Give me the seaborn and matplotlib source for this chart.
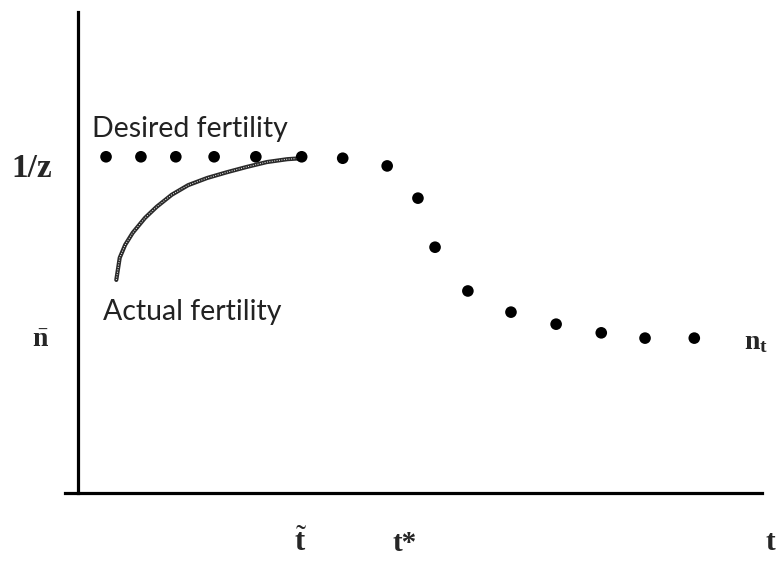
import numpy as np
import pandas as pd
import matplotlib
matplotlib.use("Agg")
import matplotlib.pyplot as plt
import seaborn as sns

# desired fertility path n_t (dots)
t_desired = [0.41, 0.92, 1.43, 1.99, 2.60, 3.27, 3.87, 4.52, 4.97, 5.22,
             5.70, 6.33, 6.99, 7.65, 8.29, 9.01]
n_desired = [6.99, 6.99, 6.99, 6.99, 6.99, 6.99, 6.96, 6.80, 6.13, 5.11,
             4.20, 3.76, 3.51, 3.33, 3.22, 3.22]

# actual fertility curve
t_actual = [0.56, 0.61, 0.69, 0.80, 0.98, 1.15, 1.37, 1.61, 1.89, 2.18,
            2.47, 2.76, 3.06, 3.27]
n_actual = [4.43, 4.89, 5.16, 5.41, 5.72, 5.95, 6.20, 6.40, 6.55, 6.67,
            6.78, 6.88, 6.94, 6.96]

inv_z = 6.99
n_bar = 3.22
t_tilde = 3.25
t_star = 4.78

desired = pd.DataFrame({"t": t_desired, "n": n_desired})
actual = pd.DataFrame({"t": t_actual, "n": n_actual})

sns.set_theme(style="white")
plt.rcParams["font.family"] = ["Liberation Serif", "DejaVu Serif"]
plt.rcParams["mathtext.fontset"] = "custom"
plt.rcParams["mathtext.rm"] = "Liberation Serif"
plt.rcParams["mathtext.it"] = "Liberation Serif"
plt.rcParams["mathtext.bf"] = "Liberation Serif:bold"

fig = plt.figure(figsize=(7.79, 5.61), dpi=100)
ax = fig.add_axes([65 / 779, 68 / 561, 697 / 779, 481 / 561])

sns.lineplot(data=actual, x="t", y="n", ax=ax, color="#2a2a2a", lw=3.0,
             sort=False, zorder=2)
sns.lineplot(data=actual, x="t", y="n", ax=ax, color="white", lw=0.7,
             sort=False, zorder=3, linestyle=(0, (1, 1.5)))
sns.scatterplot(data=desired, x="t", y="n", ax=ax, color="black", s=70,
                edgecolor="none", zorder=4)

ax.set_xlim(-0.19, 10.0)
ax.set_ylim(0, 10.0)
ax.spines["left"].set_position(("data", 0))
ax.spines["right"].set_visible(False)
ax.spines["top"].set_visible(False)
for s in ["left", "bottom"]:
    ax.spines[s].set_color("black")
    ax.spines[s].set_linewidth(2.3)
ax.set_xticks([])
ax.set_yticks([])
ax.set_xlabel("")
ax.set_ylabel("")

label_font = ["Lato", "DejaVu Sans"]
ax.text(0.20, 7.40, "Desired fertility", fontsize=20.5, ha="left",
        va="baseline", color="#222222", family=label_font)
ax.text(0.37, 3.60, "Actual fertility", fontsize=20.5, ha="left",
        va="baseline", color="#222222", family=label_font)

ax.text(-0.97, 6.57, "1/z", fontsize=24, fontweight="bold",
        ha="left", va="baseline", clip_on=False)
ax.text(-0.55, n_bar - 0.05, r"$\bar{\mathbf{n}}$", fontsize=20,
        ha="center", va="center", clip_on=False)
ax.text(9.92, n_bar - 0.1, r"$\mathbf{n_t}$", fontsize=20, ha="center",
        va="center", clip_on=False)

ax.text(t_tilde, -1.05, r"$\tilde{\mathbf{t}}$", fontsize=22, ha="center",
        va="center", clip_on=False)
ax.text(t_star, -1.05, "t*", fontsize=21, fontweight="bold", ha="center",
        va="center", clip_on=False)
ax.text(10.12, -1.02, "t", fontsize=21, fontweight="bold", ha="center",
        va="center", clip_on=False)

fig.savefig("out.png", dpi=100)
